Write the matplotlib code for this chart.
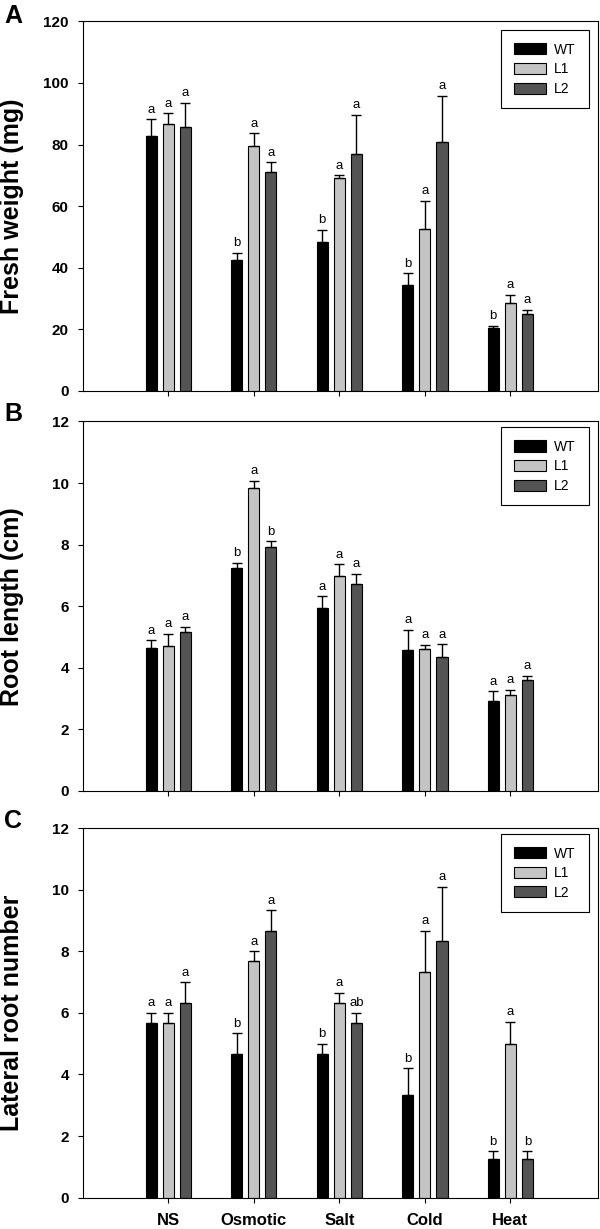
import numpy as np
import matplotlib
matplotlib.use("Agg")
import matplotlib.pyplot as plt

plt.rcParams['font.family'] = ['Liberation Sans', 'DejaVu Sans']

# data
treatments = ["NS", "Osmotic", "Salt", "Cold", "Heat"]
lines = ["WT", "L1", "L2"]
colors = ["#000000", "#c4c4c4", "#545454"]

fresh_wt = [82.9, 42.5, 48.4, 34.4, 20.6]
fresh_l1 = [86.8, 79.5, 69.1, 52.7, 28.5]
fresh_l2 = [85.8, 71.0, 76.8, 80.7, 25.0]
fresh_wt_err = [5.4, 2.4, 4.0, 3.8, 0.5]
fresh_l1_err = [3.3, 4.1, 0.9, 9.0, 2.7]
fresh_l2_err = [7.8, 3.2, 12.9, 15.1, 1.3]
fresh_letters = [["a", "b", "b", "b", "b"], ["a", "a", "a", "a", "a"], ["a", "a", "a", "a", "a"]]

root_wt = [4.63, 7.25, 5.94, 4.58, 2.92]
root_l1 = [4.70, 9.85, 6.97, 4.60, 3.11]
root_l2 = [5.16, 7.91, 6.71, 4.34, 3.59]
root_wt_err = [0.27, 0.16, 0.38, 0.65, 0.32]
root_l1_err = [0.40, 0.23, 0.39, 0.15, 0.17]
root_l2_err = [0.18, 0.20, 0.35, 0.43, 0.15]
root_letters = [["a", "b", "a", "a", "a"], ["a", "a", "a", "a", "a"], ["a", "b", "a", "a", "a"]]

lat_wt = [5.67, 4.67, 4.67, 3.33, 1.25]
lat_l1 = [5.67, 7.67, 6.33, 7.33, 5.00]
lat_l2 = [6.33, 8.67, 5.67, 8.33, 1.25]
lat_wt_err = [0.33, 0.67, 0.33, 0.88, 0.25]
lat_l1_err = [0.33, 0.33, 0.33, 1.33, 0.72]
lat_l2_err = [0.67, 0.67, 0.33, 1.77, 0.25]
lat_letters = [["a", "b", "b", "b", "b"], ["a", "a", "a", "a", "a"], ["a", "a", "ab", "a", "b"]]

panels = [
    ("A", "Fresh weight (mg)", [fresh_wt, fresh_l1, fresh_l2],
     [fresh_wt_err, fresh_l1_err, fresh_l2_err], fresh_letters, 120, 20, 0.976),
    ("B", "Root length (cm)", [root_wt, root_l1, root_l2],
     [root_wt_err, root_l1_err, root_l2_err], root_letters, 12, 2, 0.984),
    ("C", "Lateral root number", [lat_wt, lat_l1, lat_l2],
     [lat_wt_err, lat_l1_err, lat_l2_err], lat_letters, 12, 2, 0.984),
]

fig = plt.figure(figsize=(6, 12.29), dpi=100)
bottoms = [0.6819, 0.3564, 0.0255]
letter_y = [0.987, 0.663, 0.332]

x = np.arange(len(treatments))
width = 0.13
offset = 0.2

for k, (tag, ylabel, series, errs, letters, ymax, ystep, leg_top) in enumerate(panels):
    ax = fig.add_axes([0.138, bottoms[k], 0.858, 0.3007])
    for j in range(3):
        xpos = x + (j - 1) * offset
        ax.bar(xpos, series[j], width, color=colors[j], edgecolor="black",
               linewidth=0.8, label=lines[j], zorder=2)
        ax.errorbar(xpos, series[j], yerr=[np.zeros(5), errs[j]], fmt="none",
                    ecolor="black", elinewidth=1, capsize=3.3, capthick=1, zorder=3)
        for i in range(5):
            ax.annotate(letters[j][i], (xpos[i], series[j][i] + errs[j][i]),
                        xytext=(0, 2.5), textcoords="offset points",
                        ha="center", va="bottom", fontsize=9.5)
    ax.set_xlim(-1.0, 5.02)
    ax.set_ylim(0, ymax)
    ax.set_yticks(np.arange(0, ymax + 0.1, ystep))
    ax.set_xticks(x)
    if k == 2:
        ax.set_xticklabels(treatments, fontsize=12, fontweight="bold")
    else:
        ax.set_xticklabels([])
    for lab in ax.get_yticklabels():
        lab.set_fontweight("bold")
        lab.set_fontsize(11)
    ax.tick_params(axis="y", direction="out", length=3.6, width=0.8, pad=6.5)
    ax.tick_params(axis="x", direction="out", length=3.6, width=0.8, pad=7.5)
    for sp in ax.spines.values():
        sp.set_linewidth(0.8)
    ax.set_ylabel(ylabel, fontsize=18, fontweight="bold", va="center")
    ax.yaxis.set_label_coords(-0.138, 0.5)
    leg = ax.legend(loc="upper left", bbox_to_anchor=(0.8126, leg_top, 0.1705, 0),
                    mode="expand", borderaxespad=0, fontsize=10, fancybox=False,
                    edgecolor="black", framealpha=1, handlelength=2.3,
                    handleheight=0.85, labelspacing=0.4, borderpad=0.9,
                    handletextpad=0.6)
    leg.get_frame().set_linewidth(0.8)
    fig.text(0.022, letter_y[k], tag, fontsize=18, fontweight="bold",
             ha="center", va="center")

fig.savefig("out.png", dpi=100)
